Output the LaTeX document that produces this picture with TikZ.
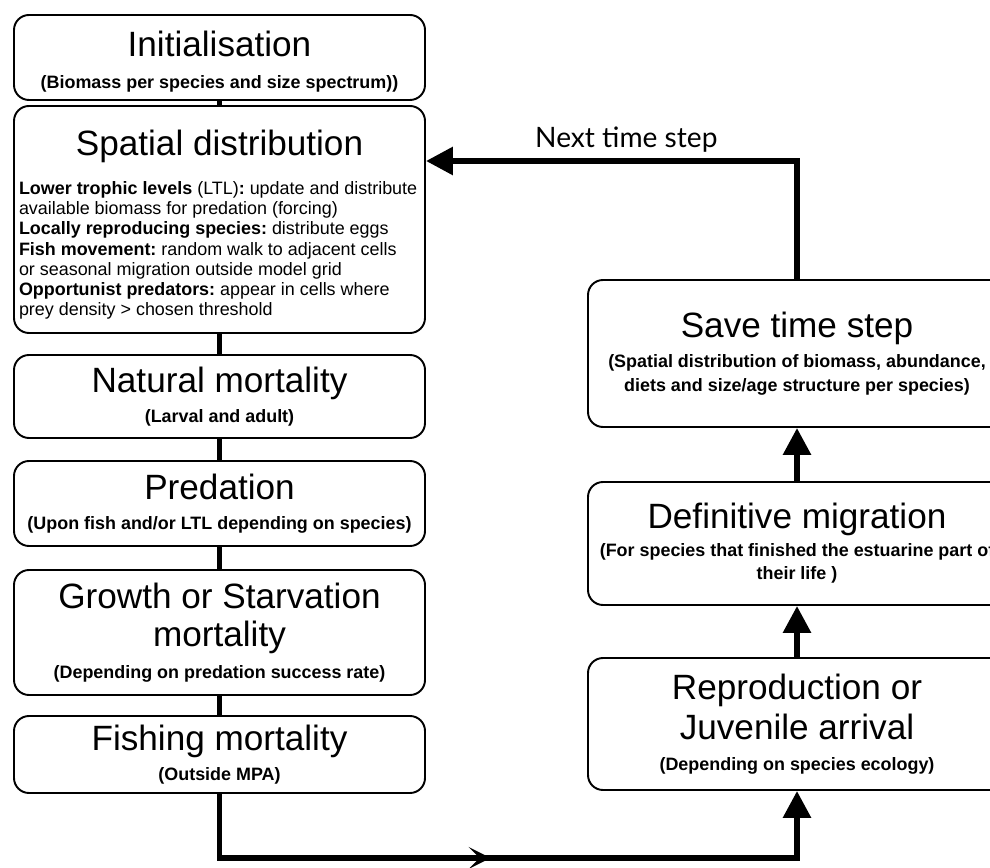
\documentclass[tikz,border=0pt]{standalone}
\usepackage{fontspec}
\setmainfont{Liberation Sans}
\newfontfamily\stepfont{Lato}
\usetikzlibrary{arrows.meta,decorations.markings}

\newcommand{\boxtitle}{\fontsize{20}{22}\selectfont\spaceskip=.278em\xspaceskip=.278em\relax}
\newcommand{\boxnote}{\bfseries\fontsize{10.2}{13.5}\selectfont\spaceskip=.278em\xspaceskip=.278em\relax}
\newcommand{\sidenote}{\bfseries\fontsize{10.2}{13.5}\selectfont\spaceskip=.278em\xspaceskip=.278em\relax}

\tikzset{
  lbox/.style={draw, line width=1.1pt, rounded corners=.3cm, align=center,
    inner xsep=.1cm, inner ysep=0pt, text width=8.02cm, font=\fontsize{10}{13.5}\selectfont},
  rbox/.style={lbox, text width=8.16cm},
  link/.style={line width=3.4pt},
  tip/.style={link, -{Triangle[length=5.4mm,width=5.4mm]}},
  midtip/.style={decoration={markings,
      mark=at position .473 with {\arrow{Stealth[length=4.4mm,width=4.4mm,inset=2.2mm]}}},
    postaction={decorate}}
}

\begin{document}
\begin{tikzpicture}
\useasboundingbox (0,0) rectangle (19.8,-17.36);

      \node[lbox, minimum height=1.7cm] at(4.39, -1.15)(init){{\boxtitle\rule{0pt}{19.2pt}Initialisation}\\[4.5pt]{\boxnote (Biomass per species and size spectrum))}};
      \node[lbox, minimum height=4.54cm] at(4.39, -4.39)(spat){{\boxtitle\rule{0pt}{20.5pt}Spatial distribution}\\[8.6pt]
        \begin{minipage}[t]{8.02cm}\fontsize{10.2}{11.5}\selectfont\spaceskip=.278em\xspaceskip=.278em\relax
        \textbf{Lower trophic levels} (LTL)\textbf{:} update and distribute\\
        available biomass for predation (forcing)\\
        \textbf{Locally reproducing species:} distribute eggs\\
        \textbf{Fish movement:} random walk to adjacent cells\\
        or seasonal migration outside model grid\\
        \textbf{Opportunist predators:} appear in cells where\\
        prey density > chosen threshold
        \end{minipage}};
      \node[lbox, minimum height=1.66cm] at(4.39, -7.93)(nat){{\boxtitle Natural mortality}\\[3.5pt]{\boxnote (Larval and adult)}};
      \node[lbox, minimum height=1.7cm] at(4.39, -10.07)(pred){{\boxtitle Predation}\\[3.5pt]{\boxnote (Upon fish and/or LTL depending on species)}};
      \node[lbox, minimum height=2.5cm] at(4.39, -12.65)(grow){{\boxtitle Growth or Starvation\\[6pt] mortality}\\[5pt]{\boxnote (Depending on predation success rate)}};
      \node[lbox, minimum height=1.54cm] at(4.39, -15.09)(fish){{\boxtitle Fishing mortality}\\[3.5pt]{\boxnote (Outside MPA)}};

      \node[rbox, minimum height=2.94cm] at(15.94, -7.07)(save){{\boxtitle Save time step}\\[3.5pt]{\sidenote (Spatial distribution of biomass, abundance,\\ diets and size/age structure per species)}};
      \node[rbox, minimum height=2.46cm] at(15.94, -10.87)(defm){{\boxtitle Definitive migration}\\[2pt]{\sidenote\mbox{(For species that finished the estuarine part of}\\ their life )}};
      \node[rbox, minimum height=2.64cm] at(15.94, -14.48)(repro){{\boxtitle Reproduction or\\[3pt] Juvenile arrival}\\[4pt]{\boxnote (Depending on species ecology)}};

      \coordinate (turn) at (15.94, -3.22);
      \coordinate (low) at (4.39, -17.16);

        \draw[link](init.south) to (spat.north);
        \draw[link](spat.south) to (nat.north);
        \draw[link](nat.south) to (pred.north);
        \draw[link](pred.south) to (grow.north);
        \draw[link](grow.south) to (fish.north);

     \draw[tip, midtip](fish.south) -- (low) -| (repro.south);
        \draw[tip](repro.north) to (defm.south);
        \draw[tip](defm.north) to (save.south);

     \draw[tip](save.north) -- (turn) -- node[above, pos=.46, font=\stepfont\fontsize{16}{18}\selectfont](next){Next time step} (spat.east |- turn);

      \end{tikzpicture}
\end{document}
